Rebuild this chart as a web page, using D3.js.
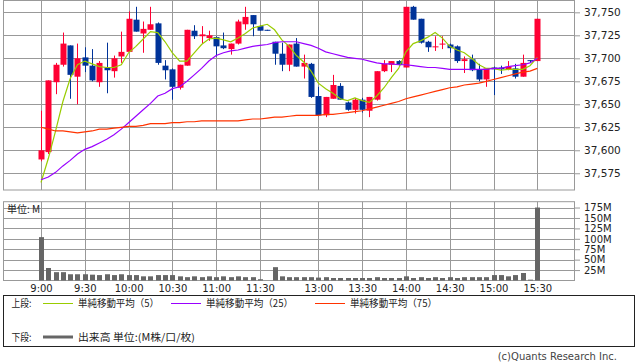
<!DOCTYPE html>
<html>
<head>
<meta charset="utf-8">
<script src="https://cdn.jsdelivr.net/npm/d3@7"></script>
<style>
  body { margin: 0; background: #fff; }
  svg { display: block; font-family: "DejaVu Sans", "Noto Sans CJK JP", sans-serif; }
  .jp { font-family: "Noto Sans CJK JP", "DejaVu Sans", sans-serif; }
</style>
</head>
<body>
<svg id="chart" width="638" height="362"></svg>
<script>
// 5-minute bars, morning then afternoon session
const morning = [];
for (let m = 9 * 60; m <= 11 * 60 + 35; m += 5) morning.push(`${Math.floor(m / 60)}:${String(m % 60).padStart(2, "0")}`);
const afternoon = [];
for (let m = 12 * 60 + 30; m <= 15 * 60 + 30; m += 5) afternoon.push(`${Math.floor(m / 60)}:${String(m % 60).padStart(2, "0")}`);
const times = morning.concat(afternoon);

const opens  = [37590,37598,37674,37693,37714,37680,37701,37692,37674,37690,37686,37702,37707,37742,37727,37731,37738,37692,37688,37668,37692,37730,37724,37722,37723,37714,37710,37716,37737,37747,37735,37731,37718,37705,37693,37716,37691,37694,37659,37638,37656,37670,37652,37644,37655,37643,37655,37686,37693,37697,37690,37756,37743,37718,37712,37715,37715,37713,37697,37699,37688,37677,37690,37690,37688,37689,37680,37698,37697];
const highs  = [37643,37676,37695,37728,37714,37716,37712,37710,37697,37717,37703,37729,37751,37756,37740,37756,37739,37698,37689,37693,37731,37736,37735,37730,37724,37728,37716,37742,37756,37747,37736,37731,37718,37717,37715,37722,37704,37695,37669,37658,37682,37673,37653,37657,37657,37658,37686,37698,37697,37698,37756,37757,37743,37719,37724,37724,37716,37714,37702,37704,37694,37689,37691,37692,37697,37694,37704,37698,37743];
const lows   = [37588,37596,37661,37691,37656,37650,37685,37675,37669,37662,37679,37695,37707,37729,37706,37731,37693,37677,37655,37666,37692,37721,37716,37719,37702,37710,37704,37715,37731,37724,37730,37730,37693,37686,37686,37691,37678,37657,37637,37636,37656,37655,37643,37640,37641,37636,37654,37685,37685,37692,37690,37742,37716,37707,37708,37710,37706,37695,37684,37686,37675,37669,37660,37683,37687,37678,37680,37695,37697];
const closes = [37600,37676,37693,37716,37682,37700,37692,37676,37695,37687,37700,37707,37743,37729,37732,37737,37695,37687,37669,37693,37731,37724,37726,37725,37713,37711,37716,37740,37745,37737,37730,37730,37705,37693,37715,37691,37695,37658,37638,37658,37671,37655,37644,37655,37644,37658,37686,37694,37697,37693,37756,37742,37717,37712,37713,37716,37711,37697,37699,37687,37677,37689,37688,37688,37691,37680,37695,37697,37743];

const ma5  = [37565,37591,37621,37653,37678,37693,37697,37694,37691,37690,37690,37693,37706,37713,37721,37729,37728,37718,37706,37697,37697,37706,37715,37721,37722,37720,37718,37722,37727,37733,37735,37737,37731,37720,37713,37703,37696,37686,37673,37667,37662,37656,37654,37657,37654,37652,37659,37668,37679,37689,37707,37716,37719,37723,37728,37722,37713,37709,37706,37700,37693,37689,37689,37687,37688,37688,37688,37692,37701];
const ma25 = [37568,37571,37576,37583,37589,37596,37601,37604,37608,37612,37617,37623,37630,37637,37644,37651,37659,37662,37667,37669,37675,37682,37689,37697,37703,37706,37708,37709,37711,37713,37714,37715,37717,37718,37718,37718,37716,37714,37711,37707,37705,37703,37701,37700,37699,37697,37695,37694,37694,37693,37693,37692,37691,37690,37690,37689,37688,37688,37688,37688,37688,37688,37689,37689,37691,37692,37693,37695,37700];
const ma75 = [37625,37623,37621,37621,37620,37619,37620,37621,37623,37623,37624,37625,37626,37626,37627,37629,37629,37629,37630,37630,37631,37631,37632,37632,37632,37632,37632,37632,37633,37634,37634,37635,37636,37636,37637,37638,37638,37638,37638,37639,37639,37640,37641,37642,37643,37645,37647,37649,37651,37653,37656,37658,37660,37662,37664,37666,37668,37669,37671,37672,37673,37675,37677,37679,37681,37683,37685,37686,37689];

// volume in millions
const volumes = [104,30,20,20,15,15,15,14,13,15,13,15,13,13,10,10,13,13,13,10,8,10,8,10,8,10,8,10,8,8,3,0,32,10,8,8,8,8,7,8,6,6,6,6,6,6,8,6,6,6,10,6,8,6,8,6,8,6,8,8,8,8,13,13,10,13,18,2,175];

const priceTicks = [37575,37600,37625,37650,37675,37700,37725,37750];
const volTicks = [25,50,75,100,125,150,175];
const timeTicks = ["9:00","9:30","10:00","10:30","11:00","11:30","13:00","13:30","14:00","14:30","15:00","15:30"];
const maNames = ["単純移動平均（5）", "単純移動平均（25）", "単純移動平均（75）"];

const UP = "#ff0033", DOWN = "#003399", GRID = "#999999";
const MA_COLORS = ["#99cc00", "#9900ff", "#ff3300"];
const VOL = "#666666";

const svg = d3.select("#chart");
const left = 3, right = 574;
const priceTop = 0.5, priceBottom = 190;
const volTop = 201.7, volBottom = 280.5;

const x = d3.scaleLinear().domain([0, times.length - 1]).range([41, 537.3]);
const y = d3.scaleLinear().domain([37556.8, 37763.4]).range([priceBottom, 0]);
const yv = d3.scaleLinear().domain([0, 189]).range([volBottom, volTop]);

const crisp = v => Math.round(v) + 0.5;
const tickIdx = timeTicks.map(t => times.indexOf(t));

// ---- price panel
const gp = svg.append("g");
gp.selectAll("line.hg").data(priceTicks).enter().append("line")
  .attr("x1", left).attr("x2", right)
  .attr("y1", d => crisp(y(d))).attr("y2", d => crisp(y(d)))
  .attr("stroke", GRID);
gp.selectAll("line.vg").data(tickIdx).enter().append("line")
  .attr("x1", d => crisp(x(d))).attr("x2", d => crisp(x(d)))
  .attr("y1", priceTop).attr("y2", priceBottom)
  .attr("stroke", GRID);
gp.append("rect").attr("x", left + 0.5).attr("y", priceTop)
  .attr("width", right - left).attr("height", priceBottom - priceTop)
  .attr("fill", "none").attr("stroke", GRID);

const bars = times.map((t, i) => ({ i, o: opens[i], h: highs[i], l: lows[i], c: closes[i] }));
const candles = gp.append("g").selectAll("g").data(bars).enter().append("g");
candles.append("line")
  .attr("x1", d => crisp(x(d.i))).attr("x2", d => crisp(x(d.i)))
  .attr("y1", d => y(d.h)).attr("y2", d => y(d.l))
  .attr("stroke", d => d.c >= d.o ? UP : DOWN);
candles.append("rect")
  .attr("x", d => Math.round(x(d.i)) - 2.5)
  .attr("width", 6)
  .attr("y", d => y(Math.max(d.o, d.c)))
  .attr("height", d => Math.max(1, y(Math.min(d.o, d.c)) - y(Math.max(d.o, d.c))))
  .attr("fill", d => d.c >= d.o ? UP : DOWN);

[ma5, ma25, ma75].forEach((s, k) => {
  gp.append("path").datum(s)
    .attr("d", d3.line().x((d, i) => x(i)).y(d => y(d)))
    .attr("fill", "none").attr("stroke", MA_COLORS[k]).attr("stroke-width", 1.2);
});

const pAxis = d3.axisRight(y).tickValues(priceTicks).tickFormat(d3.format(","))
  .tickSize(6).tickPadding(4).tickSizeOuter(0);
const pa = svg.append("g").attr("transform", `translate(${right},0)`).call(pAxis);
pa.select(".domain").remove();
pa.selectAll("line").attr("stroke", GRID);
pa.selectAll("text").attr("font-size", 10.5).attr("fill", "#222")
  .attr("font-family", "DejaVu Sans");

// ---- volume panel
const gv = svg.append("g");
gv.selectAll("line.hg").data(volTicks).enter().append("line")
  .attr("x1", left).attr("x2", right)
  .attr("y1", d => crisp(yv(d))).attr("y2", d => crisp(yv(d)))
  .attr("stroke", GRID);
gv.selectAll("line.vg").data(tickIdx).enter().append("line")
  .attr("x1", d => crisp(x(d))).attr("x2", d => crisp(x(d)))
  .attr("y1", volTop).attr("y2", volBottom)
  .attr("stroke", GRID);
gv.append("rect").attr("x", left + 0.5).attr("y", volTop)
  .attr("width", right - left).attr("height", volBottom - volTop)
  .attr("fill", "none").attr("stroke", GRID);
gv.selectAll("rect.vol").data(volumes).enter().append("rect")
  .attr("x", (d, i) => Math.round(x(i)) - 2)
  .attr("width", 5)
  .attr("y", d => yv(d))
  .attr("height", d => yv(0) - yv(d))
  .attr("fill", VOL);
gv.append("text").attr("class", "jp").attr("x", 7).attr("y", 213)
  .attr("font-size", 10).attr("fill", "#222").text("単位: M");

const vAxis = d3.axisRight(yv).tickValues(volTicks).tickFormat(d => d + "M")
  .tickSize(6).tickPadding(4).tickSizeOuter(0);
const va = svg.append("g").attr("transform", `translate(${right},0)`).call(vAxis);
va.select(".domain").remove();
va.selectAll("line").attr("stroke", GRID);
va.selectAll("text").attr("font-size", 10).attr("fill", "#222")
  .attr("font-family", "DejaVu Sans");

const xAxis = d3.axisBottom(x).tickValues(tickIdx).tickFormat(d => times[d])
  .tickSize(0).tickPadding(4);
const xa = svg.append("g").attr("transform", `translate(0,${volBottom})`).call(xAxis);
xa.select(".domain").remove();
xa.selectAll("text").attr("font-size", 10).attr("fill", "#222")
  .attr("font-family", "DejaVu Sans");

// ---- legend
const lg = svg.append("g").attr("class", "jp").attr("font-size", 10).attr("fill", "#222");
lg.append("rect").attr("x", 3.5).attr("y", 295.5).attr("width", 631).attr("height", 51)
  .attr("fill", "none").attr("stroke", "#222");
lg.append("text").attr("x", 11.5).attr("y", 307).attr("textLength", 20)
  .attr("lengthAdjust", "spacingAndGlyphs").text("上段:");
const maLegendX = [43, 171, 315];
const maTextW = [81, 87, 87];
maNames.forEach((n, k) => {
  lg.append("line").attr("x1", maLegendX[k]).attr("x2", maLegendX[k] + 30)
    .attr("y1", 303.5).attr("y2", 303.5).attr("stroke", MA_COLORS[k]);
  lg.append("text").attr("x", maLegendX[k] + 35).attr("y", 307)
    .attr("textLength", maTextW[k]).attr("lengthAdjust", "spacingAndGlyphs").text(n);
});
lg.append("text").attr("x", 11.5).attr("y", 341).attr("textLength", 20)
  .attr("lengthAdjust", "spacingAndGlyphs").text("下段:");
lg.append("line").attr("x1", 43).attr("x2", 73).attr("y1", 337).attr("y2", 337)
  .attr("stroke", VOL).attr("stroke-width", 3);
lg.append("text").attr("x", 78).attr("y", 341).attr("textLength", 117)
  .attr("lengthAdjust", "spacingAndGlyphs").text("出来高 単位:(M株/口/枚)");

svg.append("text").attr("x", 617).attr("y", 359.5).attr("text-anchor", "end")
  .attr("font-size", 10).attr("fill", "#444").text("(c)Quants Research Inc.");
</script>
</body>
</html>
